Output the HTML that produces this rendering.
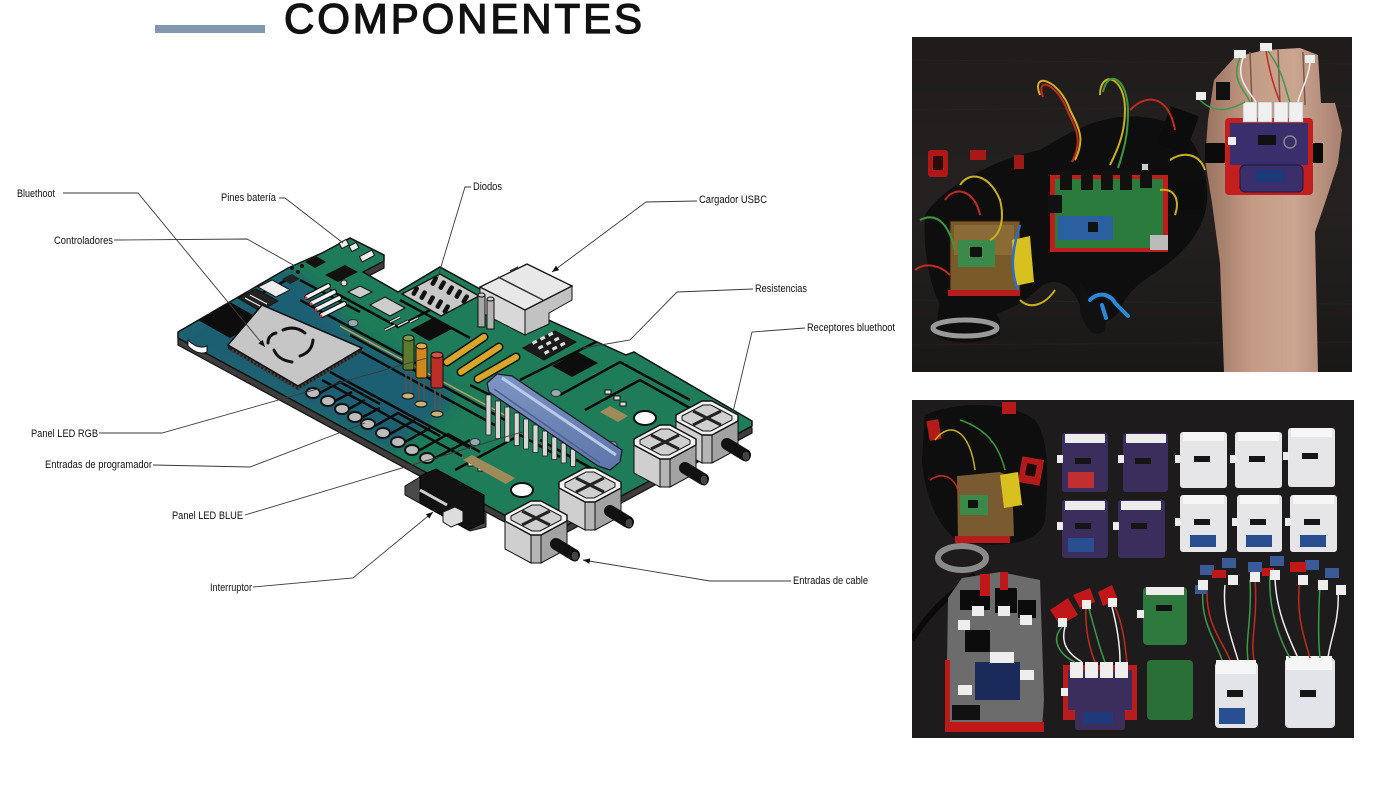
<!DOCTYPE html>
<html><head><meta charset="utf-8"><style>
html,body{margin:0;padding:0;background:#fff;width:1400px;height:788px;overflow:hidden}
svg{display:block}
.l{font-family:"Liberation Sans",Arial,sans-serif;font-size:11px;fill:#111}
.ld{fill:none;stroke:#3a3a3a;stroke-width:0.9}
</style></head><body>
<svg width="1400" height="788" viewBox="0 0 1400 788" xmlns="http://www.w3.org/2000/svg">
<defs>
<marker id="ar" viewBox="0 0 10 10" refX="10" refY="5" markerWidth="7" markerHeight="7" markerUnits="userSpaceOnUse" orient="auto"><path d="M0,1 L10,5 L0,9 z" fill="#111"/></marker>
<clipPath id="bc"><polygon points="178,332 288,268 322,253 350,238 384,255 384,261 363,272 398,292 440,267 480,289 626,355 634,352 752,421 752,426 545,537 178,338"/></clipPath>
<filter id="bl" x="-20%" y="-20%" width="140%" height="140%"><feGaussianBlur stdDeviation="7"/></filter>
<linearGradient id="skin" x1="1205" y1="0" x2="1342" y2="0" gradientUnits="userSpaceOnUse"><stop offset="0" stop-color="#9a7360"/><stop offset="0.35" stop-color="#c49c86"/><stop offset="0.65" stop-color="#cba590"/><stop offset="1" stop-color="#a98070"/></linearGradient>
<linearGradient id="bg1" x1="0" y1="37" x2="0" y2="372" gradientUnits="userSpaceOnUse"><stop offset="0" stop-color="#1f1c1b"/><stop offset="0.5" stop-color="#242120"/><stop offset="1" stop-color="#1a1817"/></linearGradient>
<linearGradient id="bar" x1="0" y1="0" x2="1" y2="1"><stop offset="0" stop-color="#7e95c4"/><stop offset="1" stop-color="#5d75a8"/></linearGradient>
<clipPath id="c1"><rect x="912" y="37" width="440" height="335"/></clipPath>
<clipPath id="c2"><rect x="912" y="400" width="442" height="338"/></clipPath>
</defs>

<!-- Title -->
<rect x="155" y="25" width="110" height="8" fill="#8197af"/>
<text x="284" y="33" font-family="Liberation Sans, Arial, sans-serif" font-size="42" fill="#111" stroke="#111" stroke-width="1.3" textLength="358" lengthAdjust="spacing">COMPONENTES</text>

<!-- ===== PCB ===== -->
<polygon transform="translate(0,7)" points="178,332 288,268 322,253 350,238 384,255 384,261 363,272 398,292 440,267 480,289 626,355 634,352 752,421 752,426 545,537 178,338" fill="#3d3d3d" stroke="#111" stroke-width="1.2"/>
<line x1="178" y1="338" x2="178" y2="345" stroke="#111"/>
<polygon points="178,332 288,268 322,253 350,238 384,255 384,261 363,272 398,292 440,267 480,289 626,355 634,352 752,421 752,426 545,537 178,338" fill="#1e7c58"/>
<g clip-path="url(#bc)">
 <polygon points="170,330 282,268 300,275 330,302 348,332 445,382 455,402 392,452 170,345" fill="#1d5f73" filter="url(#bl)"/>
 <g fill="none" stroke="#0b0b0b" stroke-width="2.5">
  <path d="M300,300 L420,365"/>
  <path d="M350,335 L505,420"/>
  <path d="M345,343 L500,428"/>
  <path d="M330,372 L470,448"/>
  <path d="M322,380 L462,456"/>
  <path d="M318,394 L340,382 L380,404"/>
  <path d="M333,402 L352,392"/>
  <path d="M347,410 L365,400"/>
  <path d="M361,418 L380,408"/>
  <path d="M375,426 L398,413 L440,436"/>
  <path d="M390,434 L415,420"/>
  <path d="M405,442 L430,428"/>
  <path d="M420,450 L448,434 L480,452"/>
  <path d="M435,458 L470,440"/>
  <path d="M455,470 L520,435 L560,457"/>
  <path d="M520,380 L600,340"/>
  <path d="M560,395 L620,362 L690,400"/>
  <path d="M585,410 L640,380 L720,425"/>
  <path d="M540,440 L600,473"/>
  <path d="M490,395 L470,385"/>
  <path d="M330,290 L398,327 L430,310"/>
  <path d="M300,280 L360,312"/>
  <path d="M250,300 L290,278"/>
  <path d="M400,300 L470,338"/>
 </g>
 <path d="M340,326 L510,418" stroke="#b8a062" stroke-width="1.5"/>
</g>
<polygon points="178,332 288,268 322,253 350,238 384,255 384,261 363,272 398,292 440,267 480,289 626,355 634,352 752,421 752,426 545,537 178,338" fill="none" stroke="#111" stroke-width="1.5"/>
<path d="M188,340 Q198,350 207,346 L207,352 Q198,356 188,346 Z" fill="#fff" stroke="#111"/>

<!-- tab parts -->
<rect x="340" y="241" width="8" height="6" fill="#eee" stroke="#111" transform="rotate(-28 344 244)"/>
<rect x="350" y="244" width="8" height="6" fill="#eee" stroke="#111" transform="rotate(-28 354 247)"/>
<rect x="360" y="253" width="14" height="6" fill="#eee" stroke="#111" transform="rotate(-28 367 256)"/>
<polygon points="305,262 316,256 326,262 315,268" fill="#111"/>
<polygon points="325,275 345,265 358,272 338,282" fill="#111"/>
<circle cx="292" cy="268" r="2" fill="#111"/><circle cx="298" cy="272" r="2" fill="#111"/><circle cx="302" cy="266" r="2" fill="#111"/>
<polygon points="282,279 292,274 300,279 290,284" fill="#222"/>
<polygon points="258,287 272,280 290,290 276,297" fill="#eee" stroke="#111"/>
<polygon points="238,298 256,289 278,301 260,311" fill="#222" stroke="#111"/>
<g stroke="#fff" stroke-width="1"><line x1="245" y1="298" x2="262" y2="307"/><line x1="250" y1="295" x2="267" y2="304"/></g>
<g stroke="#111" stroke-width="6" stroke-linecap="round"><line x1="307" y1="297" x2="328" y2="286"/><line x1="312" y1="303" x2="334" y2="292"/><line x1="317" y1="309" x2="339" y2="298"/><line x1="322" y1="315" x2="344" y2="304"/></g>
<g stroke="#f4f4f4" stroke-width="3.5" stroke-linecap="round"><line x1="307" y1="297" x2="328" y2="286"/><line x1="312" y1="303" x2="334" y2="292"/><line x1="317" y1="309" x2="339" y2="298"/><line x1="322" y1="315" x2="344" y2="304"/></g>
<g fill="#d33"><circle cx="306" cy="298" r="1.5"/><circle cx="311" cy="304" r="1.5"/><circle cx="316" cy="310" r="1.5"/><circle cx="321" cy="316" r="1.5"/></g>
<polygon points="348,292 360,286 372,292 360,298" fill="#ccc" stroke="#111"/>
<circle cx="344" cy="283" r="3" fill="#ddd" stroke="#111"/>
<polygon points="370,305 385,297 405,308 390,316" fill="#ccc" stroke="#111"/>
<g stroke="#111" stroke-width="3"><line x1="390" y1="322" x2="400" y2="317"/><line x1="398" y1="326" x2="408" y2="321"/><line x1="385" y1="330" x2="395" y2="325"/><line x1="410" y1="322" x2="418" y2="318"/></g>
<g stroke="#ddd" stroke-width="1.5"><line x1="390" y1="322" x2="400" y2="317"/><line x1="398" y1="326" x2="408" y2="321"/><line x1="385" y1="330" x2="395" y2="325"/><line x1="410" y1="322" x2="418" y2="318"/></g>
<polygon points="198,320 230,302 262,320 230,338" fill="#0d0d0d"/>
<!-- module -->
<polygon points="228,349 298,390 362,352 362,348 298,386 228,345" fill="#222"/>
<path d="M232,350 L297,388 L358,352" fill="none" stroke="#444" stroke-width="4" stroke-dasharray="2,2"/>
<polygon points="228,345 262,305 362,348 298,386" fill="#c6c6c6" stroke="#111" stroke-width="1.5"/>
<g fill="none" stroke="#111" stroke-width="3" stroke-linecap="round">
 <path d="M283,330 Q295,325 305,333"/>
 <path d="M313,340 Q312,352 300,356"/>
 <path d="M292,362 Q278,360 274,350"/>
 <path d="M268,343 Q268,335 276,333"/>
</g>
<g fill="#bdbdbd" stroke="#111" stroke-width="2">
 <ellipse cx="313" cy="393" rx="7" ry="5"/><ellipse cx="328" cy="401" rx="7" ry="5"/><ellipse cx="342" cy="409" rx="7" ry="5"/>
 <ellipse cx="355" cy="417" rx="7" ry="5"/><ellipse cx="368" cy="424" rx="7" ry="5"/><ellipse cx="383" cy="433" rx="7" ry="5"/>
 <ellipse cx="398" cy="442" rx="7" ry="5"/><ellipse cx="412" cy="450" rx="7" ry="5"/><ellipse cx="427" cy="458" rx="7" ry="5"/>
</g>
<g fill="#9aa" stroke="#234"><ellipse cx="353" cy="323" rx="5" ry="3.5"/><ellipse cx="475" cy="442" rx="5" ry="3.5"/><ellipse cx="556" cy="393" rx="5" ry="3.5"/><ellipse cx="612" cy="445" rx="5" ry="3.5"/></g>
<!-- diodes block -->
<polygon points="402,294 440,274 479,296 441,316" fill="#c8c8c8" stroke="#111" stroke-width="1.3"/>
<g fill="#111">
 <rect x="413" y="286" width="4.5" height="10" rx="2" transform="rotate(30 415 291)"/>
 <rect x="421" y="290" width="4.5" height="10" rx="2" transform="rotate(30 423 295)"/>
 <rect x="429" y="295" width="4.5" height="10" rx="2" transform="rotate(30 431 300)"/>
 <rect x="437" y="299" width="4.5" height="10" rx="2" transform="rotate(30 439 304)"/>
 <rect x="444" y="304" width="4.5" height="10" rx="2" transform="rotate(30 446 309)"/>
 <rect x="432" y="276" width="4.5" height="10" rx="2" transform="rotate(30 434 281)"/>
 <rect x="440" y="280" width="4.5" height="10" rx="2" transform="rotate(30 442 285)"/>
 <rect x="448" y="285" width="4.5" height="10" rx="2" transform="rotate(30 450 290)"/>
 <rect x="456" y="289" width="4.5" height="10" rx="2" transform="rotate(30 458 294)"/>
 <rect x="463" y="294" width="4.5" height="10" rx="2" transform="rotate(30 465 299)"/>
</g>
<polygon points="410,330 433,318 452,329 429,341" fill="#0d0d0d"/>
<g stroke="#111" stroke-width="9" stroke-linecap="round"><line x1="447" y1="362" x2="484" y2="337"/><line x1="461" y1="372" x2="499" y2="347"/><line x1="478" y1="379" x2="516" y2="357"/></g>
<g stroke="#d9a62c" stroke-width="6" stroke-linecap="round"><line x1="447" y1="362" x2="484" y2="337"/><line x1="461" y1="372" x2="499" y2="347"/><line x1="478" y1="379" x2="516" y2="357"/></g>
<!-- USB -->
<polygon points="480,287 525,310 525,335 480,312" fill="#d8d8d8" stroke="#111"/>
<polygon points="525,310 572,286 572,300 549,313 549,324 525,335" fill="#c2c2c2" stroke="#111"/>
<polygon points="480,287 527,264 572,286 525,310" fill="#e8e8e8" stroke="#111" stroke-width="1.3"/>
<path d="M498,277 L543,300 M510,271 L518,267" stroke="#333" stroke-width="1.5" fill="none"/>
<rect x="478" y="295" width="7" height="32" fill="#a9a9a9" stroke="#111"/><ellipse cx="481.5" cy="295" rx="3.5" ry="2" fill="#ccc" stroke="#111"/>
<rect x="487" y="299" width="7" height="30" fill="#b3b3b3" stroke="#111"/><ellipse cx="490.5" cy="299" rx="3.5" ry="2" fill="#ccc" stroke="#111"/>
<!-- resistencias pads -->
<polygon points="523,348 555,331 576,342 544,360" fill="#1a1a1a" stroke="#111"/>
<g fill="#ddd"><rect x="532" y="341" width="5" height="3" transform="rotate(-28 534 342)"/><rect x="540" y="337" width="5" height="3" transform="rotate(-28 542 338)"/><rect x="548" y="333" width="5" height="3" transform="rotate(-28 550 334)"/><rect x="538" y="346" width="5" height="3" transform="rotate(-28 540 347)"/><rect x="546" y="342" width="5" height="3" transform="rotate(-28 548 343)"/><rect x="554" y="338" width="5" height="3" transform="rotate(-28 556 339)"/><rect x="544" y="351" width="5" height="3" transform="rotate(-28 546 352)"/><rect x="552" y="347" width="5" height="3" transform="rotate(-28 554 348)"/><rect x="560" y="343" width="5" height="3" transform="rotate(-28 562 344)"/></g>
<polygon points="552,366 578,352 598,363 572,377" fill="#0d0d0d"/>
<g fill="#ddd" stroke="#111"><rect x="605" y="390" width="6" height="4"/><rect x="614" y="396" width="6" height="4"/><rect x="620" y="402" width="6" height="4"/><rect x="468" y="462" width="5" height="4"/><rect x="478" y="467" width="5" height="4"/></g>
<polygon points="600,412 610,406 628,416 618,422" fill="#9e8a5a"/>
<polygon points="463,460 472,455 515,478 506,484" fill="#9e8a5a"/>
<ellipse cx="522" cy="490" rx="11" ry="7" fill="#fff" stroke="#111" stroke-width="2"/>
<ellipse cx="645" cy="418" rx="11" ry="7" fill="#fff" stroke="#111" stroke-width="2"/>
<!-- LEDs -->
<g stroke="#555" stroke-width="1.5"><line x1="406" y1="368" x2="406" y2="395"/><line x1="411" y1="368" x2="411" y2="393"/><line x1="419" y1="376" x2="419" y2="403"/><line x1="424" y1="376" x2="424" y2="401"/><line x1="435" y1="386" x2="435" y2="413"/><line x1="440" y1="386" x2="440" y2="411"/></g>
<g fill="#c9b27a" stroke="#111"><ellipse cx="408" cy="396" rx="6" ry="3"/><ellipse cx="421" cy="404" rx="6" ry="3"/><ellipse cx="437" cy="414" rx="6" ry="3"/></g>
<rect x="403" y="338" width="11" height="32" rx="2" fill="#5c7a2c" stroke="#111"/><ellipse cx="408.5" cy="338" rx="5.5" ry="3" fill="#7e9c4a" stroke="#111"/>
<rect x="416" y="346" width="11" height="32" rx="2" fill="#d2871c" stroke="#111"/><ellipse cx="421.5" cy="346" rx="5.5" ry="3" fill="#eaa74a" stroke="#111"/>
<rect x="431" y="355" width="12" height="33" rx="2" fill="#bb2d27" stroke="#111"/><ellipse cx="437" cy="355" rx="6" ry="3" fill="#d85048" stroke="#111"/>
<!-- pins -->
<g fill="#d6d6d6" stroke="#222" stroke-width="0.8">
 <rect x="486" y="395" width="5" height="40"/><rect x="495.4" y="401" width="5" height="37.5"/><rect x="504.8" y="407" width="5" height="35"/>
 <rect x="514.2" y="413" width="5" height="32.5"/><rect x="523.6" y="419" width="5" height="30"/><rect x="533" y="425" width="5" height="27.5"/>
 <rect x="542.4" y="431" width="5" height="25"/><rect x="551.8" y="437" width="5" height="22.5"/><rect x="561.2" y="443" width="5" height="20"/>
 <rect x="570.6" y="449" width="5" height="17.5"/>
</g>
<polygon points="487,383 497,374 512,376 622,450 620,462 610,470 598,466 489,392" fill="url(#bar)" stroke="#1a1a2a" stroke-width="1.3"/>
<line x1="502" y1="378" x2="616" y2="455" stroke="#b9cae9" stroke-width="3"/>
<line x1="494" y1="389" x2="600" y2="463" stroke="#4c5f8e" stroke-width="1.5"/>
<!-- switch -->
<polygon points="405,486 420,477 486,512 486,527 470,531 405,495" fill="#4a4a4a" stroke="#111"/>
<polygon points="420,476 436,469 484,495 484,523 468,530 420,503" fill="#121212" stroke="#000"/>
<line x1="420" y1="490" x2="447" y2="505" stroke="#cfcfcf" stroke-width="3"/>
<polygon points="443,512 455,507 463,511 463,522 451,527 443,522" fill="#ddd" stroke="#111"/>

<!-- boxes -->
<g transform="translate(707,418)">
 <polygon points="-31,3 -5,17 -5,45 -31,31" fill="#cfcfcf" stroke="#111"/>
 <polygon points="-5,17 5,17 5,45 -5,45" fill="#b5b5b5" stroke="#111"/>
 <polygon points="5,17 31,3 31,31 5,45" fill="#a3a3a3" stroke="#111"/>
 <polygon points="-31,-3 -5,-17 5,-17 31,-3 31,3 5,17 -5,17 -31,3" fill="#f2f2f2" stroke="#111" stroke-width="1.4"/>
 <polygon points="-25,-2 -4,-13 4,-13 25,-2 25,2 4,13 -4,13 -25,2" fill="#cfcfcf" stroke="#111"/>
 <path d="M-14,-7 L14,7 M14,-7 L-14,7" stroke="#222" stroke-width="3"/>
 <line x1="20" y1="26" x2="38" y2="37" stroke="#111" stroke-width="12" stroke-linecap="round"/>
 <ellipse cx="39" cy="38" rx="4" ry="5" fill="#444" stroke="#000"/>
</g>
<g transform="translate(665,442)">
 <polygon points="-31,3 -5,17 -5,45 -31,31" fill="#cfcfcf" stroke="#111"/>
 <polygon points="-5,17 5,17 5,45 -5,45" fill="#b5b5b5" stroke="#111"/>
 <polygon points="5,17 31,3 31,31 5,45" fill="#a3a3a3" stroke="#111"/>
 <polygon points="-31,-3 -5,-17 5,-17 31,-3 31,3 5,17 -5,17 -31,3" fill="#f2f2f2" stroke="#111" stroke-width="1.4"/>
 <polygon points="-25,-2 -4,-13 4,-13 25,-2 25,2 4,13 -4,13 -25,2" fill="#cfcfcf" stroke="#111"/>
 <path d="M-14,-7 L14,7 M14,-7 L-14,7" stroke="#222" stroke-width="3"/>
 <line x1="20" y1="26" x2="38" y2="37" stroke="#111" stroke-width="12" stroke-linecap="round"/>
 <ellipse cx="39" cy="38" rx="4" ry="5" fill="#444" stroke="#000"/>
</g>
<g transform="translate(590,485)">
 <polygon points="-31,3 -5,17 -5,45 -31,31" fill="#cfcfcf" stroke="#111"/>
 <polygon points="-5,17 5,17 5,45 -5,45" fill="#b5b5b5" stroke="#111"/>
 <polygon points="5,17 31,3 31,31 5,45" fill="#a3a3a3" stroke="#111"/>
 <polygon points="-31,-3 -5,-17 5,-17 31,-3 31,3 5,17 -5,17 -31,3" fill="#f2f2f2" stroke="#111" stroke-width="1.4"/>
 <polygon points="-25,-2 -4,-13 4,-13 25,-2 25,2 4,13 -4,13 -25,2" fill="#cfcfcf" stroke="#111"/>
 <path d="M-14,-7 L14,7 M14,-7 L-14,7" stroke="#222" stroke-width="3"/>
 <line x1="20" y1="26" x2="38" y2="37" stroke="#111" stroke-width="12" stroke-linecap="round"/>
 <ellipse cx="39" cy="38" rx="4" ry="5" fill="#444" stroke="#000"/>
</g>
<g transform="translate(536,518)">
 <polygon points="-31,3 -5,17 -5,45 -31,31" fill="#cfcfcf" stroke="#111"/>
 <polygon points="-5,17 5,17 5,45 -5,45" fill="#b5b5b5" stroke="#111"/>
 <polygon points="5,17 31,3 31,31 5,45" fill="#a3a3a3" stroke="#111"/>
 <polygon points="-31,-3 -5,-17 5,-17 31,-3 31,3 5,17 -5,17 -31,3" fill="#f2f2f2" stroke="#111" stroke-width="1.4"/>
 <polygon points="-25,-2 -4,-13 4,-13 25,-2 25,2 4,13 -4,13 -25,2" fill="#cfcfcf" stroke="#111"/>
 <path d="M-14,-7 L14,7 M14,-7 L-14,7" stroke="#222" stroke-width="3"/>
 <line x1="20" y1="26" x2="38" y2="37" stroke="#111" stroke-width="12" stroke-linecap="round"/>
 <ellipse cx="39" cy="38" rx="4" ry="5" fill="#444" stroke="#000"/>
</g>

<!-- leader lines -->
<polyline class="ld" points="63,193 138,193 265,347" marker-end="url(#ar)"/>
<polyline class="ld" points="279,198 285,198 343,243"/>
<polyline class="ld" points="114,240 247,239 295,266"/>
<polyline class="ld" points="471,187 465,187 437,280"/>
<polyline class="ld" points="697,201 646,202 552,272" marker-end="url(#ar)"/>
<polyline class="ld" points="753,289 677,292 630,340 583,348"/>
<polyline class="ld" points="805,328 752,332 733,412"/>
<polyline class="ld" points="99,433 162,433 427,358"/>
<polyline class="ld" points="153,465 250,467 365,423"/>
<polyline class="ld" points="245,515 522,432"/>
<polyline class="ld" points="253,587 353,578 433,512" marker-end="url(#ar)"/>
<polyline class="ld" points="791,581 710,581 583,560" marker-end="url(#ar)"/>

<!-- labels -->
<text class="l" x="17" y="197" textLength="38" lengthAdjust="spacingAndGlyphs">Bluethoot</text>
<text class="l" x="221" y="201" textLength="55" lengthAdjust="spacingAndGlyphs">Pines batería</text>
<text class="l" x="54" y="244" textLength="59" lengthAdjust="spacingAndGlyphs">Controladores</text>
<text class="l" x="473" y="190" textLength="29" lengthAdjust="spacingAndGlyphs">Diodos</text>
<text class="l" x="699" y="203" textLength="68" lengthAdjust="spacingAndGlyphs">Cargador USBC</text>
<text class="l" x="755" y="292" textLength="52" lengthAdjust="spacingAndGlyphs">Resistencias</text>
<text class="l" x="807" y="331" textLength="88" lengthAdjust="spacingAndGlyphs">Receptores bluethoot</text>
<text class="l" x="31" y="437" textLength="67" lengthAdjust="spacingAndGlyphs">Panel LED RGB</text>
<text class="l" x="45" y="468" textLength="107" lengthAdjust="spacingAndGlyphs">Entradas de programador</text>
<text class="l" x="172" y="519" textLength="71" lengthAdjust="spacingAndGlyphs">Panel LED BLUE</text>
<text class="l" x="210" y="591" textLength="42" lengthAdjust="spacingAndGlyphs">Interruptor</text>
<text class="l" x="793" y="584" textLength="75" lengthAdjust="spacingAndGlyphs">Entradas de cable</text>

<!-- ===== PHOTO 1 ===== -->
<g clip-path="url(#c1)">
 <rect x="912" y="37" width="440" height="335" fill="url(#bg1)"/>
 <g stroke="#2a2624" stroke-width="1" opacity="0.6"><line x1="912" y1="60" x2="1352" y2="64"/><line x1="912" y1="110" x2="1352" y2="106"/><line x1="912" y1="300" x2="1352" y2="304"/><line x1="912" y1="345" x2="1352" y2="342"/></g>
 <path d="M925,215 C940,190 990,160 1040,150 C1080,125 1110,112 1150,118 C1185,122 1205,150 1207,190 C1210,225 1185,250 1170,262 C1150,278 1130,285 1120,310 C1110,325 1090,330 1080,305 C1070,280 1050,275 1035,292 C1015,310 990,318 960,322 C935,318 922,260 925,215Z" fill="#0f0e0e"/>
 <path d="M940,300 C960,290 990,300 1000,320 L1000,335 C980,345 950,345 935,335 Z" fill="#0f0e0e"/>
 <path d="M1080,280 C1090,300 1100,310 1110,300 L1105,330 C1095,340 1085,330 1080,310Z" fill="#111"/>
 <rect x="1163" y="110" width="30" height="40" fill="#0c0c0c" transform="rotate(20 1178 130)"/>
 <rect x="1175" y="180" width="28" height="30" fill="#0c0c0c"/>
 <ellipse cx="965" cy="328" rx="32" ry="8" fill="none" stroke="#9a9a9a" stroke-width="5"/>
 <rect x="928" y="150" width="20" height="27" rx="3" fill="#b01818"/>
 <rect x="933" y="156" width="10" height="14" fill="#2a0a0a"/>
 <rect x="970" y="150" width="16" height="10" fill="#a81818"/>
 <rect x="1014" y="155" width="10" height="14" fill="#a01818"/>
 <rect x="950" y="221" width="70" height="72" fill="#7a5a28" stroke="#2a1a0a"/>
 <rect x="954" y="225" width="60" height="30" fill="#8a6a35"/>
 <rect x="958" y="240" width="37" height="27" fill="#3b8a4a"/>
 <rect x="970" y="247" width="12" height="10" fill="#111"/>
 <rect x="948" y="290" width="72" height="6" fill="#b81c1c"/>
 <path d="M1012,240 L1030,236 L1034,282 L1015,286 Z" fill="#d8c020"/>
 <path d="M1020,225 C1012,250 1010,270 1018,290" stroke="#2a70c8" stroke-width="2.5" fill="none"/>
 <rect x="1050" y="175" width="118" height="77" fill="#c01c1c"/>
 <rect x="1055" y="179" width="108" height="69" fill="#2b7c3c"/>
 <rect x="1058" y="216" width="55" height="24" fill="#2a5fa0"/>
 <rect x="1088" y="222" width="10" height="10" fill="#111"/>
 <rect x="1150" y="235" width="18" height="15" fill="#bbb"/>
 <g fill="#111"><rect x="1060" y="170" width="12" height="20"/><rect x="1081" y="170" width="12" height="20"/><rect x="1101" y="170" width="12" height="20"/><rect x="1120" y="170" width="12" height="20"/><rect x="1140" y="168" width="12" height="20"/><rect x="1048" y="195" width="14" height="18"/></g>
 <g fill="#ccc"><rect x="1142" y="164" width="6" height="6"/></g>
 <path d="M1090,300 C1100,290 1112,296 1115,303 L1128,316 M1102,305 L1106,318" stroke="#2a8ad8" stroke-width="4" fill="none" stroke-linecap="round"/>
 <g fill="none" stroke-width="2">
  <path d="M1040,95 C1030,70 1060,80 1070,110 C1080,130 1085,140 1075,160" stroke="#d4b020"/>
  <path d="M1043,97 C1035,75 1058,84 1068,112 C1078,132 1082,142 1072,162" stroke="#c02a20"/>
  <path d="M1100,95 C1100,70 1125,75 1125,110 C1125,130 1120,145 1110,165" stroke="#c8b020"/>
  <path d="M1103,92 C1108,68 1128,78 1128,112 C1128,135 1124,150 1118,168" stroke="#3a9a3a"/>
  <path d="M1130,110 C1150,90 1170,100 1175,130" stroke="#c02a20"/>
  <path d="M1170,160 C1185,150 1200,155 1205,170" stroke="#c8b020"/>
  <path d="M960,185 C970,170 990,175 1000,200 C1005,220 1000,235 990,240" stroke="#c8b020"/>
  <path d="M945,200 C955,185 975,190 980,215" stroke="#c02a20"/>
  <path d="M920,220 C940,210 950,230 955,250" stroke="#3a9a3a"/>
  <path d="M915,270 C925,262 940,265 950,275" stroke="#c02a20"/>
  <path d="M1160,190 C1175,188 1180,200 1175,215" stroke="#c8b020"/>
  <path d="M1020,300 C1030,310 1045,305 1055,290" stroke="#c8b020"/>
 </g>
 <polygon points="1224,372 1220,263 1212,203 1205,160 1208,120 1214,80 1235,57 1265,50 1300,48 1318,55 1321,103 1335,103 1342,130 1338,163 1325,203 1315,232 1318,372" fill="url(#skin)"/>
 <g stroke="#7a5848" stroke-width="1.5" fill="none"><path d="M1250,52 L1252,105"/><path d="M1278,50 L1280,105"/><path d="M1303,52 L1305,105"/></g>
 <rect x="1216" y="82" width="14" height="18" fill="#111"/>
 <rect x="1205" y="143" width="118" height="20" fill="#0b0b0b"/>
 <rect x="1225" y="118" width="88" height="77" rx="4" fill="#c41e1e"/>
 <rect x="1230" y="123" width="78" height="42" fill="#3a2e6c"/>
 <rect x="1240" y="165" width="63" height="27" rx="5" fill="#3a2e6c" stroke="#1a1a3a"/>
 <rect x="1255" y="170" width="30" height="12" fill="#1c3a7a"/>
 <rect x="1258" y="135" width="18" height="10" fill="#111"/>
 <circle cx="1290" cy="142" r="6" fill="none" stroke="#888" stroke-width="1.5"/>
 <rect x="1228" y="137" width="8" height="8" fill="#eee"/>
 <g fill="#f0f0f0" stroke="#999" stroke-width="0.5"><rect x="1243" y="102" width="14" height="20"/><rect x="1258" y="102" width="14" height="20"/><rect x="1274" y="102" width="14" height="20"/><rect x="1289" y="102" width="14" height="20"/></g>
 <g fill="#eee"><rect x="1234" y="50" width="12" height="8"/><rect x="1260" y="43" width="12" height="8"/><rect x="1305" y="55" width="10" height="8"/><rect x="1196" y="92" width="10" height="8"/></g>
 <g fill="none" stroke-width="1.5"><path d="M1240,58 C1230,80 1245,90 1250,102" stroke="#3a9a4a"/><path d="M1243,58 C1235,80 1250,92 1256,102" stroke="#eee"/><path d="M1266,51 C1270,75 1275,90 1280,102" stroke="#c02a20"/><path d="M1268,51 C1285,75 1285,90 1290,102" stroke="#3a9a4a"/><path d="M1310,63 C1308,80 1300,92 1298,102" stroke="#eee"/><path d="M1200,100 C1215,115 1230,110 1245,102" stroke="#3a9a4a"/></g>
</g>

<!-- ===== PHOTO 2 ===== -->
<g clip-path="url(#c2)">
 <rect x="912" y="400" width="442" height="338" fill="#1d1b1b"/>
 <path d="M925,415 C960,400 1010,402 1035,420 C1050,440 1048,480 1045,520 C1040,545 1000,548 960,542 C940,530 925,500 922,460 Z" fill="#0e0e0e"/>
 <rect x="928" y="420" width="12" height="20" fill="#b41a1a" transform="rotate(-10 934 430)"/>
 <rect x="1002" y="402" width="14" height="12" fill="#b41a1a"/>
 <rect x="1020" y="458" width="22" height="26" fill="#b41a1a" transform="rotate(10 1031 471)"/>
 <rect x="1026" y="464" width="10" height="12" fill="#1a0a0a" transform="rotate(10 1031 470)"/>
 <polygon points="957,476 1000,472 1012,478 1014,536 958,540" fill="#7a5a30"/>
 <rect x="960" y="495" width="28" height="20" fill="#3a8a4a"/>
 <rect x="968" y="500" width="10" height="8" fill="#111"/>
 <polygon points="1000,475 1018,472 1022,505 1004,508" fill="#d8c020"/>
 <rect x="955" y="536" width="55" height="7" fill="#b81c1c"/>
 <g fill="none" stroke-width="1.5"><path d="M935,440 C950,420 970,430 975,470" stroke="#c8b020"/><path d="M960,420 C990,430 1000,450 1005,470" stroke="#3a9a3a"/><path d="M930,480 C945,470 955,480 958,490" stroke="#c02a20"/></g>
 <ellipse cx="962" cy="558" rx="24" ry="12" fill="none" stroke="#8a8a8a" stroke-width="6"/>
 <path d="M912,640 C930,610 950,595 975,575" stroke="#0a0a0a" stroke-width="6" fill="none"/>
 <g>
  <rect x="1062" y="433" width="46" height="59" rx="3" fill="#3b2d5c"/>
  <rect x="1123" y="433" width="45" height="59" rx="3" fill="#3b2d5c"/>
  <rect x="1180" y="432" width="47" height="56" rx="3" fill="#e6e6e8"/>
  <rect x="1235" y="432" width="47" height="56" rx="3" fill="#e6e6e8"/>
  <rect x="1288" y="428" width="47" height="59" rx="3" fill="#e6e6e8"/>
  <rect x="1062" y="500" width="46" height="58" rx="3" fill="#3b2d5c"/>
  <rect x="1118" y="500" width="47" height="58" rx="3" fill="#3b2d5c"/>
  <rect x="1180" y="495" width="47" height="57" rx="3" fill="#e6e6e8"/>
  <rect x="1237" y="495" width="45" height="57" rx="3" fill="#e6e6e8"/>
  <rect x="1290" y="495" width="47" height="57" rx="3" fill="#e6e6e8"/>
 </g>
 <g fill="#ececec">
  <rect x="1065" y="434" width="40" height="9"/><rect x="1126" y="434" width="40" height="9"/>
  <rect x="1183" y="432" width="41" height="9" fill="#f6f6f6"/><rect x="1238" y="432" width="41" height="9" fill="#f6f6f6"/><rect x="1291" y="428" width="41" height="9" fill="#f6f6f6"/>
  <rect x="1065" y="501" width="40" height="9"/><rect x="1121" y="501" width="40" height="9"/>
  <rect x="1183" y="495" width="41" height="9" fill="#f6f6f6"/><rect x="1240" y="495" width="39" height="9" fill="#f6f6f6"/><rect x="1293" y="495" width="41" height="9" fill="#f6f6f6"/>
  <rect x="1057" y="455" width="6" height="8"/><rect x="1118" y="455" width="6" height="8"/><rect x="1175" y="455" width="6" height="8"/><rect x="1230" y="455" width="6" height="8"/><rect x="1283" y="452" width="6" height="8"/>
  <rect x="1057" y="522" width="6" height="8"/><rect x="1113" y="522" width="6" height="8"/><rect x="1175" y="518" width="6" height="8"/><rect x="1232" y="518" width="6" height="8"/><rect x="1285" y="518" width="6" height="8"/>
 </g>
 <g fill="#151515">
  <rect x="1075" y="458" width="16" height="6"/><rect x="1135" y="458" width="16" height="6"/><rect x="1194" y="456" width="16" height="6"/><rect x="1249" y="456" width="16" height="6"/><rect x="1302" y="453" width="16" height="6"/>
  <rect x="1075" y="523" width="16" height="6"/><rect x="1131" y="523" width="16" height="6"/><rect x="1194" y="519" width="16" height="6"/><rect x="1250" y="519" width="16" height="6"/><rect x="1304" y="519" width="16" height="6"/>
 </g>
 <rect x="1068" y="472" width="26" height="16" fill="#c03030"/>
 <g fill="#2a4f90"><rect x="1068" y="538" width="26" height="14"/><rect x="1190" y="535" width="26" height="12"/><rect x="1246" y="535" width="26" height="12"/><rect x="1300" y="535" width="26" height="12"/></g>
 <path d="M948,598 L962,578 L1000,572 L1040,580 L1044,700 L1042,730 L946,732 Z" fill="#6c6c6c"/>
 <g fill="#0c0c0c"><rect x="960" y="590" width="30" height="20"/><rect x="995" y="588" width="22" height="25"/><rect x="1018" y="600" width="18" height="18"/><rect x="965" y="630" width="25" height="22"/></g>
 <g fill="#c01818"><rect x="945" y="722" width="99" height="10"/><rect x="945" y="660" width="5" height="70"/><rect x="980" y="574" width="10" height="22"/><rect x="1000" y="572" width="8" height="18"/></g>
 <rect x="975" y="662" width="45" height="38" fill="#1a2a5a"/>
 <rect x="952" y="705" width="28" height="15" fill="#111"/>
 <g fill="#eee"><rect x="958" y="620" width="12" height="10"/><rect x="972" y="606" width="12" height="10"/><rect x="998" y="606" width="12" height="10"/><rect x="1020" y="615" width="12" height="10"/><rect x="990" y="652" width="24" height="11"/><rect x="1020" y="670" width="14" height="10"/><rect x="958" y="685" width="14" height="10"/></g>
 <rect x="1063" y="665" width="74" height="55" fill="#b81c1c"/>
 <rect x="1068" y="670" width="64" height="40" fill="#3b2d5c"/>
 <rect x="1075" y="708" width="50" height="22" rx="3" fill="#3b2d5c"/>
 <rect x="1083" y="712" width="30" height="12" fill="#1e3a7a"/>
 <g fill="#efefef"><rect x="1070" y="662" width="13" height="16"/><rect x="1085" y="662" width="13" height="16"/><rect x="1100" y="662" width="13" height="16"/><rect x="1115" y="662" width="13" height="16"/><rect x="1061" y="688" width="7" height="8"/></g>
 <g fill="#c01818"><path d="M1050,610 L1068,598 L1078,615 L1060,625 Z"/><path d="M1073,595 L1090,588 L1095,602 L1080,608 Z"/><path d="M1098,592 L1112,585 L1118,600 L1103,606 Z"/></g>
 <g fill="#eee"><rect x="1058" y="618" width="9" height="9"/><rect x="1082" y="600" width="9" height="9"/><rect x="1108" y="598" width="9" height="9"/></g>
 <g fill="none" stroke-width="1.5">
  <path d="M1062,627 C1050,640 1060,655 1075,662" stroke="#3a9a4a"/><path d="M1065,627 C1060,645 1070,655 1082,662" stroke="#eee"/>
  <path d="M1086,609 C1085,630 1090,650 1095,662" stroke="#c02a20"/><path d="M1089,609 C1095,630 1100,650 1105,662" stroke="#3a9a4a"/>
  <path d="M1112,607 C1118,630 1120,650 1120,662" stroke="#eee"/><path d="M1115,607 C1125,630 1125,650 1127,662" stroke="#c02a20"/>
 </g>
 <rect x="1143" y="587" width="44" height="58" rx="4" fill="#2e7a3e"/>
 <g fill="#eee"><rect x="1146" y="587" width="38" height="8"/><rect x="1137" y="610" width="7" height="8"/></g>
 <rect x="1156" y="605" width="16" height="6" fill="#111"/>
 <rect x="1147" y="660" width="46" height="60" rx="4" fill="#2a6e38"/>
 <rect x="1215" y="662" width="43" height="66" rx="4" fill="#e2e4ea"/>
 <rect x="1285" y="658" width="50" height="70" rx="4" fill="#e2e4ea"/>
 <g fill="#f6f6f6"><rect x="1216" y="660" width="40" height="14"/><rect x="1286" y="656" width="46" height="14"/></g>
 <g fill="#151515"><rect x="1227" y="690" width="16" height="7"/><rect x="1300" y="690" width="16" height="7"/></g>
 <rect x="1219" y="708" width="26" height="16" fill="#2a4f90"/>
 <g fill="none" stroke-width="1.5">
  <path d="M1203,590 C1200,620 1215,640 1222,660" stroke="#3a9a4a"/><path d="M1207,590 C1206,625 1222,640 1230,660" stroke="#c02a20"/>
  <path d="M1225,585 C1222,615 1232,640 1238,660" stroke="#eee"/><path d="M1250,580 C1252,620 1245,640 1248,660" stroke="#3a9a4a"/>
  <path d="M1255,578 C1258,620 1250,640 1254,660" stroke="#c02a20"/>
  <path d="M1270,575 C1268,610 1280,640 1290,658" stroke="#3a9a4a"/><path d="M1275,575 C1275,610 1290,640 1298,658" stroke="#eee"/>
  <path d="M1300,578 C1295,615 1305,640 1310,658" stroke="#c02a20"/><path d="M1320,585 C1318,620 1318,640 1320,658" stroke="#3a9a4a"/>
  <path d="M1338,590 C1340,620 1330,640 1328,658" stroke="#eee"/>
 </g>
 <g fill="#3a5a9a"><rect x="1200" y="565" width="14" height="10"/><rect x="1222" y="558" width="14" height="10"/><rect x="1248" y="562" width="14" height="10"/><rect x="1270" y="556" width="14" height="10"/><rect x="1305" y="560" width="14" height="10"/><rect x="1325" y="568" width="14" height="10"/><rect x="1195" y="585" width="12" height="9"/></g>
 <g fill="#c01818"><rect x="1212" y="570" width="14" height="8"/><rect x="1262" y="568" width="12" height="8"/><rect x="1290" y="562" width="16" height="10"/></g>
 <g fill="#eee"><rect x="1198" y="580" width="10" height="10"/><rect x="1228" y="575" width="10" height="10"/><rect x="1250" y="572" width="10" height="10"/><rect x="1270" y="570" width="10" height="10"/><rect x="1298" y="575" width="10" height="10"/><rect x="1318" y="580" width="10" height="10"/><rect x="1336" y="585" width="10" height="10"/></g>
</g>
</svg>
</body></html>
